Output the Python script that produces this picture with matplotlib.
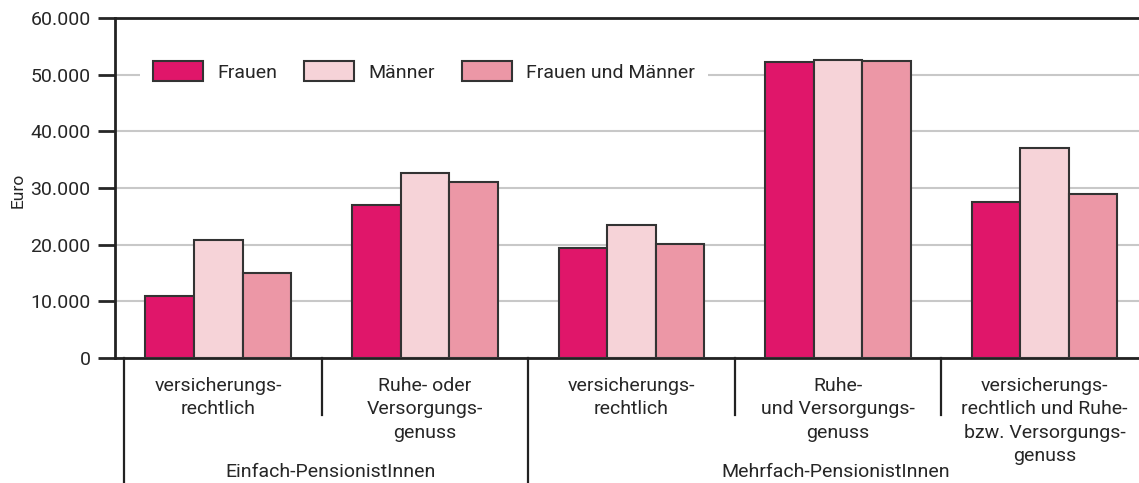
import numpy as np
import matplotlib.pyplot as plt
from matplotlib.ticker import FuncFormatter

plt.rcParams['font.family'] = ['Roboto', 'DejaVu Sans']

# data
categories = ['versicherungs-\nrechtlich',
              'Ruhe- oder\nVersorgungs-\ngenuss',
              'versicherungs-\nrechtlich',
              'Ruhe-\nund Versorgungs-\ngenuss',
              'versicherungs-\nrechtlich und Ruhe-\nbzw. Versorgungs-\ngenuss']
groups = ['Einfach-PensionistInnen', 'Mehrfach-PensionistInnen']
frauen = [11000, 27000, 19500, 52300, 27500]
maenner = [20900, 32600, 23400, 52600, 37000]
frauen_maenner = [15000, 31100, 20100, 52400, 28900]
series_names = ['Frauen', 'Männer', 'Frauen und Männer']
colors = ['#E0166A', '#F6D3D8', '#EC97A6']

fs = 14
tc = '#262626'
fig = plt.figure(figsize=(11.39, 4.83), dpi=100)
ax = fig.add_axes([115/1139, 125/483, 1 - 115/1139, 340/483])

x = np.arange(len(categories))
w = 0.235
for i, vals in enumerate([frauen, maenner, frauen_maenner]):
    ax.bar(x + (i - 1)*w, vals, width=w, color=colors[i], edgecolor='#333333',
           linewidth=1.5, label=series_names[i], zorder=3)

ax.set_xlim(-0.5, 4.458)
ax.set_ylim(0, 60000)
ax.set_yticks(np.arange(0, 60001, 10000))
ax.yaxis.set_major_formatter(FuncFormatter(lambda v, p: '{:,.0f}'.format(v).replace(',', '.')))
ax.tick_params(axis='y', length=12, width=2, labelsize=fs, colors=tc, pad=5.5)
ax.set_xticks([])
ax.yaxis.grid(True, color='#c8c8c8', linewidth=1.5, zorder=0)
ax.set_axisbelow(True)
for s in ['left', 'bottom', 'top']:
    ax.spines[s].set_linewidth(2)
    ax.spines[s].set_color('#222222')
ax.spines['right'].set_visible(False)
ax.set_ylabel('Euro', fontsize=12.5, color=tc)
ax.yaxis.set_label_coords(-0.087, 0.494)

leg = ax.legend(loc='center left', bbox_to_anchor=(0.0244, 0.8426), ncol=3, fontsize=fs,
                frameon=True, facecolor='white', edgecolor='none', framealpha=1,
                handlelength=2.57, handleheight=1.18, handletextpad=0.72,
                columnspacing=1.4, borderpad=0.67, borderaxespad=0)
for t in leg.get_texts():
    t.set_color(tc)

# category labels below the axis
trans = ax.get_xaxis_transform()
def ay(py):
    return (358 - py)/340

for xi, lab in zip(x, categories):
    for k, line in enumerate(lab.split('\n')):
        ax.text(xi, ay(391 + k*23.3), line, transform=trans, ha='center', va='baseline',
                fontsize=fs, color=tc, clip_on=False)

for sx in [0.5, 2.5, 3.5]:
    ax.plot([sx, sx], [0, ay(415)], transform=trans, color='#222222', lw=1.6, clip_on=False)
for sx in [-0.455, 1.5]:
    ax.plot([sx, sx], [0, ay(490)], transform=trans, color='#222222', lw=1.6, clip_on=False)

ax.text(0.542, ay(477), groups[0], transform=trans, ha='center', va='baseline', fontsize=fs,
        color=tc, clip_on=False)
ax.text(2.99, ay(477), groups[1], transform=trans, ha='center', va='baseline', fontsize=fs,
        color=tc, clip_on=False)

plt.savefig('out.png', dpi=100)
